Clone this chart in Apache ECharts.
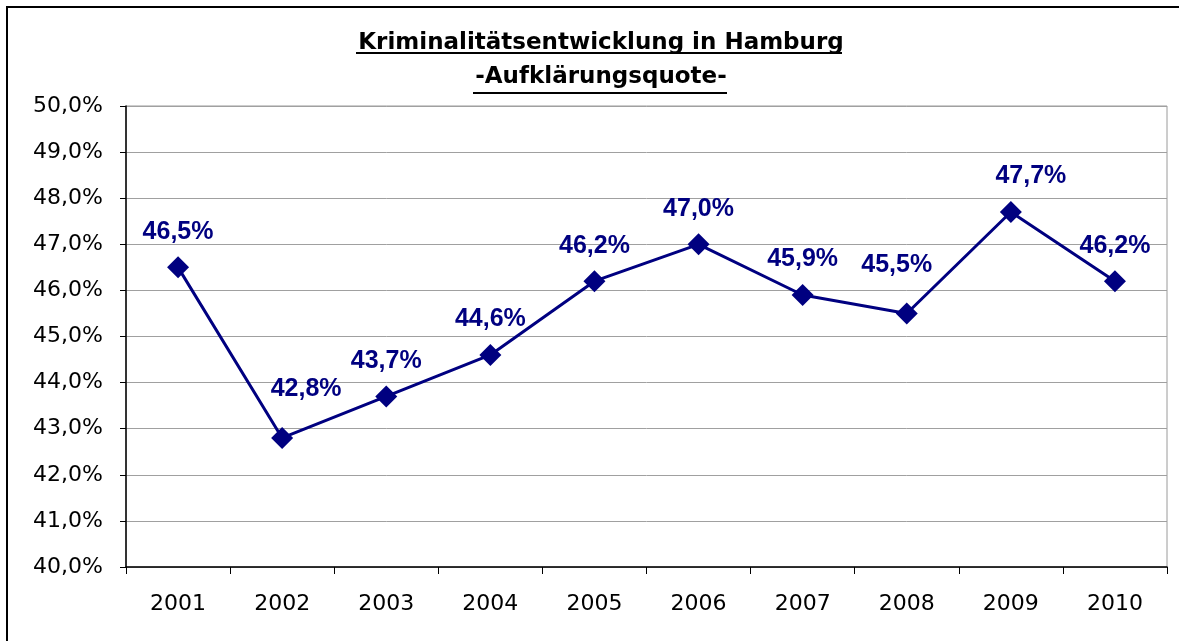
<html lang="de">
<head>
    <meta charset="UTF-8">
    <title>Kriminalitätsentwicklung in Hamburg</title>
    <script src="https://cdn.jsdelivr.net/npm/echarts@6/dist/echarts.min.js"></script>
</head>
<body style="margin:0;background:#fff">
    <div id="main" style="width: 1179px;height: 641px"></div>
    <script type="text/javascript">
        var years = ['2001', '2002', '2003', '2004', '2005', '2006', '2007', '2008', '2009', '2010'];
        var quote = [46.5, 42.8, 43.7, 44.6, 46.2, 47.0, 45.9, 45.5, 47.7, 46.2];
        var yMin = 40, yMax = 50, yStep = 1;

        function pct(v) {
            return Number(v).toFixed(1).replace('.', ',') + '%';
        }

        // einige Beschriftungen sind im Original leicht verschoben
        var labelShift = { 1: [24, -13], 7: [-10, -13], 8: [20, 0] };

        var myChart = echarts.init(document.getElementById('main'));
        var option = {
            animation: false,
            backgroundColor: '#fff',
            title: {
                text: 'Kriminalitätsentwicklung in Hamburg\n-Aufklärungsquote-',
                left: 596,
                textAlign: 'center',
                top: 21,
                textStyle: {
                    fontFamily: 'DejaVu Sans',
                    fontSize: 23,
                    fontWeight: 'bold',
                    color: '#000',
                    lineHeight: 34
                }
            },
            graphic: [
                // Rahmen um das Diagramm
                { type: 'rect', shape: { x: 7, y: 7, width: 1300, height: 800 },
                  style: { fill: 'none', stroke: '#000', lineWidth: 2 } },
                // Unterstreichung des Titels
                { type: 'line', shape: { x1: 356, y1: 53, x2: 842, y2: 53 },
                  style: { stroke: '#000', lineWidth: 2 } },
                { type: 'line', shape: { x1: 473, y1: 93, x2: 727, y2: 93 },
                  style: { stroke: '#000', lineWidth: 2 } }
            ],
            grid: {
                left: 126,
                right: 12,
                top: 106,
                bottom: 74,
                show: true,
                borderColor: '#9a9a9a',
                borderWidth: 1
            },
            xAxis: {
                type: 'category',
                data: years,
                boundaryGap: true,
                axisLine: { lineStyle: { color: '#000', width: 1.5 } },
                axisTick: { show: true, length: 7, interval: 0, lineStyle: { color: '#000' } },
                axisLabel: {
                    fontFamily: 'DejaVu Sans',
                    fontSize: 22,
                    color: '#000',
                    margin: 26
                }
            },
            yAxis: {
                type: 'value',
                min: yMin,
                max: yMax,
                interval: yStep,
                axisLine: { show: true, lineStyle: { color: '#000', width: 1.5 } },
                axisTick: { show: true, length: 6, lineStyle: { color: '#000' } },
                splitLine: { lineStyle: { color: '#a0a0a0', width: 1 } },
                axisLabel: {
                    fontFamily: 'DejaVu Sans',
                    fontSize: 22,
                    color: '#000',
                    margin: 23,
                    formatter: pct
                }
            },
            series: [{
                name: 'Aufklärungsquote',
                type: 'line',
                data: quote.map(function (v, i) {
                    var s = labelShift[i];
                    return s ? { value: v, label: { offset: s } } : v;
                }),
                symbol: 'diamond',
                symbolSize: 22,
                lineStyle: { color: '#000080', width: 3 },
                itemStyle: { color: '#000080' },
                label: {
                    show: true,
                    position: 'top',
                    distance: 12,
                    fontFamily: 'Liberation Sans Narrow, Liberation Sans, Arial',
                    fontSize: 25,
                    fontWeight: 'bold',
                    color: '#000080',
                    formatter: function (p) { return pct(p.value); }
                }
            }]
        };
        myChart.setOption(option);
    </script>
</body>
</html>
